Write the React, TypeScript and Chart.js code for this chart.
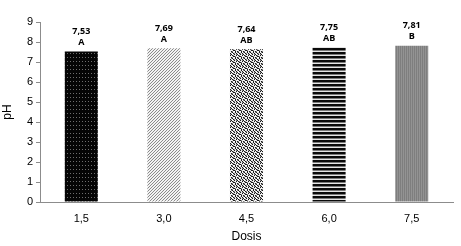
import React, { useEffect, useRef } from "react";
import { Chart, registerables } from "chart.js";

Chart.register(...registerables);

const categories = ["1,5", "3,0", "4,5", "6,0", "7,5"];
const phValues = [7.53, 7.69, 7.64, 7.75, 7.81];
const valueLabels = ["7,53", "7,69", "7,64", "7,75", "7,81"];
const groupLetters = ["A", "A", "AB", "AB", "B"];
const yTicks = [0, 1, 2, 3, 4, 5, 6, 7, 8, 9];

function makePattern(rows: string[], colors: Record<string, string>): CanvasPattern | string {
  const h = rows.length;
  const w = rows[0].length;
  const c = document.createElement("canvas");
  c.width = w;
  c.height = h;
  const ctx = c.getContext("2d");
  if (!ctx) return "#888";
  for (let y = 0; y < h; y++) {
    for (let x = 0; x < w; x++) {
      ctx.fillStyle = colors[rows[y][x]];
      ctx.fillRect(x, y, 1, 1);
    }
  }
  const p = ctx.createPattern(c, "repeat");
  return p || "#888";
}

export default function App() {
  const ref = useRef<HTMLCanvasElement>(null);
  useEffect(() => {
    if (!ref.current) return;
    const patterns = [
      makePattern(["KKK", "KGK", "KKK", "KKK"], { K: "#050505", G: "#6e6e6e" }),
      makePattern(["..X", ".X.", "X.."], { ".": "#f2f2f2", X: "#8a8a8a" }),
      makePattern(
        ["KWGK.W", "W.KWKG", "KGW.WK", ".KWKG.", "WK.GKW", "GWKW.K"],
        { ".": "#ffffff", W: "#e8e8e8", G: "#8c8c8c", K: "#1a1a1a" }
      ),
      makePattern(["K", "K", "G", "W"], { K: "#0a0a0a", G: "#7a7a7a", W: "#e6e6e6" }),
      makePattern(["AB"], { A: "#7e7e7e", B: "#939393" }),
    ];
    const labelPlugin = {
      id: "barLabels",
      afterDatasetsDraw(chart: any) {
        const ctx = chart.ctx;
        const meta = chart.getDatasetMeta(0);
        ctx.save();
        ctx.fillStyle = "#000";
        ctx.textAlign = "center";
        ctx.textBaseline = "middle";
        ctx.font = "bold 9px 'Open Sans', sans-serif";
        meta.data.forEach((bar: any, i: number) => {
          ctx.fillText(valueLabels[i], bar.x, bar.y - 20);
          ctx.fillText(groupLetters[i], bar.x, bar.y - 9);
        });
        ctx.restore();
      },
    };
    const chart = new Chart(ref.current, {
      type: "bar",
      data: {
        labels: categories,
        datasets: [
          {
            data: phValues,
            backgroundColor: patterns as any,
            borderWidth: 0,
            categoryPercentage: 1,
            barPercentage: 0.4,
          },
        ],
      },
      options: {
        animation: false,
        responsive: false,
        maintainAspectRatio: false,
        layout: { padding: { left: 0, right: 8, top: 22, bottom: 0 } },
        plugins: { legend: { display: false }, tooltip: { enabled: false } },
        scales: {
          x: {
            grid: { display: false },
            border: { display: true, color: "#8c8c8c", width: 1 },
            ticks: {
              color: "#000",
              font: { family: "'Liberation Sans', Arial, sans-serif", size: 11 },
              padding: 2,
            },
            title: {
              display: true,
              text: "Dosis",
              color: "#000",
              font: { family: "'Liberation Sans', Arial, sans-serif", size: 12 },
              padding: { top: 6, bottom: 2 },
            },
            afterFit(scale: any) {
              scale.height = 44;
            },
          },
          y: {
            min: 0,
            max: 9,
            afterBuildTicks(scale: any) {
              scale.ticks = yTicks.map((v) => ({ value: v }));
            },
            grid: { drawOnChartArea: false, color: "#8c8c8c", tickLength: 4 },
            border: { display: true, color: "#8c8c8c", width: 1 },
            ticks: {
              color: "#000",
              font: { family: "'Liberation Sans', Arial, sans-serif", size: 11 },
              padding: 3,
            },
            title: {
              display: true,
              text: "pH",
              color: "#000",
              font: { family: "'Liberation Sans', Arial, sans-serif", size: 12 },
              padding: { top: 0, bottom: 4 },
            },
            afterFit(scale: any) {
              scale.width = 40;
            },
          },
        },
      },
      plugins: [labelPlugin],
    });
    return () => chart.destroy();
  }, []);
  return (
    <div style={{ position: "absolute", left: 0, top: 0, width: 461, height: 246, background: "#fff" }}>
      <canvas ref={ref} width={461} height={246} style={{ width: 461, height: 246 }} />
    </div>
  );
}
